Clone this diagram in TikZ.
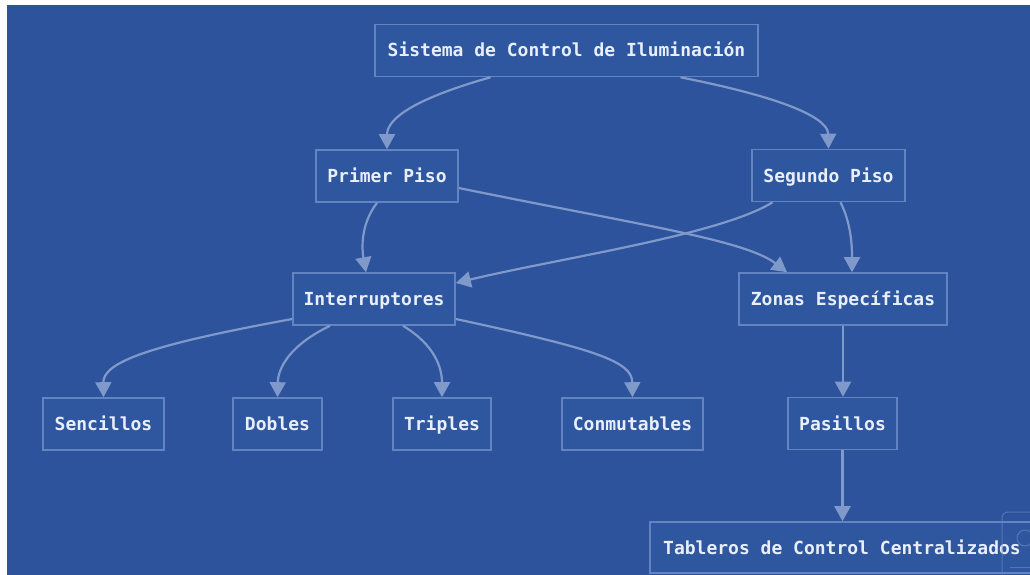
\documentclass[tikz,border=0pt]{standalone}
\usepackage{fontspec}
\setmonofont{DejaVu Sans Mono}
\usetikzlibrary{arrows.meta}
\definecolor{bgblue}{RGB}{44,83,155}
\definecolor{boxfill}{RGB}{47,87,160}
\definecolor{boxline}{RGB}{98,132,192}
\definecolor{edgecol}{RGB}{128,153,203}
\definecolor{txtcol}{RGB}{232,238,250}
\tikzset{
  box/.style={draw=boxline, fill=boxfill, line width=1.6pt, minimum height=52pt,
    inner sep=0pt, text height=14pt, text depth=1pt, text=txtcol,
    font=\ttfamily\bfseries\fontsize{18}{21}\selectfont},
  conn/.style={draw=edgecol, line width=2.2pt, -{Triangle[length=15pt,width=16pt]}},
}
\begin{document}
\begin{tikzpicture}[x=1pt,y=-1pt]
\clip (0,0) rectangle (1030,575);
\fill[white] (0,0) rectangle (1030,575);
\fill[bgblue] (7,5) rectangle (1030,575);

\node[box, minimum width=383pt] (sis) at (566.5,50.5) {Sistema de Control de Iluminación};
\node[box, minimum width=142pt] (prim) at (387,176) {Primer Piso};
\node[box, minimum width=153pt] (seg) at (828.5,175.5) {Segundo Piso};
\node[box, minimum width=162pt] (intr) at (374,299) {Interruptores};
\node[box, minimum width=208pt] (zon) at (843,299) {Zonas Específicas};
\node[box, minimum width=121pt] (senc) at (103.5,424) {Sencillos};
\node[box, minimum width=89pt] (dob) at (277.5,424) {Dobles};
\node[box, minimum width=98pt] (tri) at (442,424) {Triples};
\node[box, minimum width=141pt] (con) at (632.5,424) {Conmutables};
\node[box, minimum width=109pt] (pas) at (842.5,423.5) {Pasillos};
\node[box, minimum width=384pt, minimum height=51pt] (tab) at (842,547.5) {Tableros de Control Centralizados};

\draw[conn] ([xshift=-76pt]sis.south) .. controls (410,100) and (387,120) .. (prim.north);
\draw[conn] ([xshift=114pt]sis.south) .. controls (795,100) and (828,120) .. (seg.north);
\draw[conn] ([xshift=-10pt]prim.south) .. controls (360,225) and (362,250) .. ([xshift=-8pt]intr.north);
\draw[conn] ([yshift=-12pt]prim.east) .. controls (640,225) and (745,240) .. ([xshift=-56pt]zon.north);
\draw[conn] ([xshift=-56pt]seg.south) .. controls (720,235) and (560,258) .. ([yshift=16pt]intr.east);
\draw[conn] ([xshift=12pt]seg.south) .. controls (852,225) and (852,250) .. ([xshift=9pt]zon.north);
\draw[conn] ([yshift=-20pt]intr.west) .. controls (150,345) and (103,362) .. (senc.north);
\draw[conn] ([xshift=-44pt]intr.south) .. controls (290,345) and (278,368) .. (dob.north);
\draw[conn] ([xshift=29pt]intr.south) .. controls (435,345) and (442,368) .. (tri.north);
\draw[conn] ([yshift=-20pt]intr.east) .. controls (600,350) and (632,362) .. (con.north);
\draw[conn] (zon.south) -- (zon.south |- pas.north);
\draw[conn] (pas.south) -- (pas.south |- tab.north);

% partial overlay icon at the bottom-right corner
\draw[boxline, line width=1pt, rounded corners=6pt, opacity=0.7] (1002,580) -- (1002,512) -- (1040,512);
\draw[boxline, line width=1pt, opacity=0.7] (1025,538) circle (8);
\draw[boxline, line width=1pt, opacity=0.7] (1010,567) -- (1030,567);
\end{tikzpicture}
\end{document}
